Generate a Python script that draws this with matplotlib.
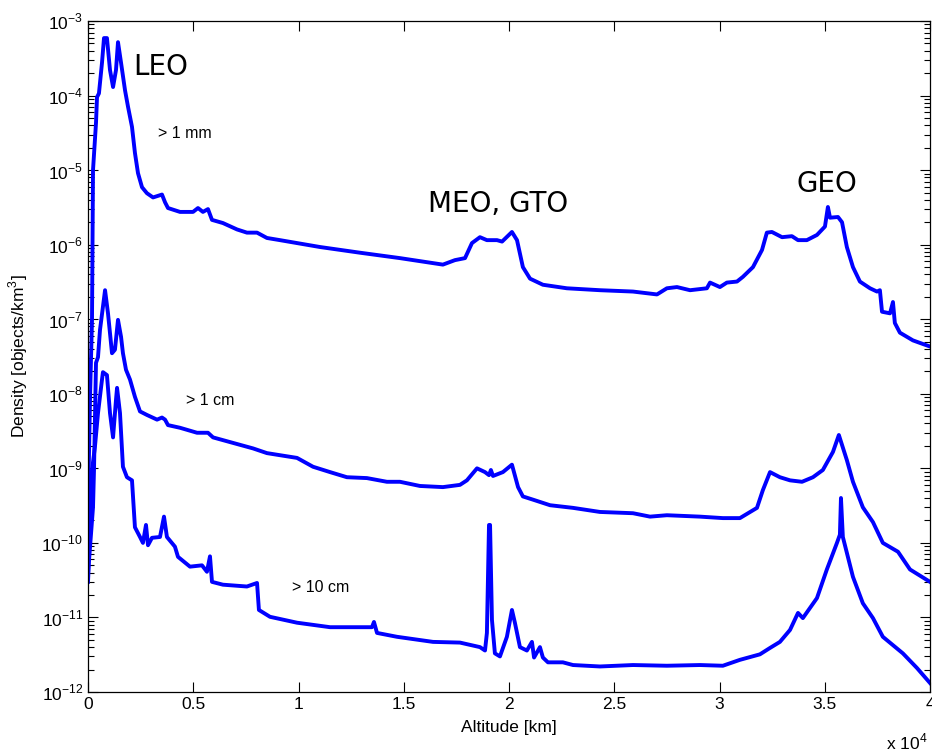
import numpy as np
import matplotlib
matplotlib.use("Agg")
from matplotlib import pyplot as plt
from matplotlib.ticker import FixedLocator, FuncFormatter, LogLocator, NullFormatter

# altitude [km] and density [objects/km^3]
alt_1mm = [0, 100, 190, 238, 380, 428, 520, 665, 760, 900, 1045, 1190, 1330, 1425, 1570,
           1760, 1900, 2090, 2230, 2375, 2565, 2800, 3090, 3515, 3660, 3800, 4370, 4990,
           5225, 5460, 5700, 5890, 6410, 7080, 7550, 8030, 8500, 9120, 11020, 12920,
           14820, 16860, 17430, 17910, 18240, 18620, 18950, 19430, 19670, 20140, 20380,
           20660, 21000, 21610, 22750, 24320, 25890, 27030, 27500, 27980, 28600, 29400,
           29550, 30020, 30350, 30830, 31110, 31590, 32020, 32250, 32490, 32970, 33440,
           33730, 34150, 34630, 35010, 35150, 35250, 35630, 35820, 36050, 36340, 36670,
           37150, 37480, 37620, 37720, 38100, 38240, 38330, 38570, 39190, 40000]
dens_1mm = [3e-10, 1e-8, 9.8e-8, 1.0e-5, 4.3e-5, 9.5e-5, 1.07e-4, 2.75e-4, 5.9e-4, 5.9e-4,
            2.2e-4, 1.3e-4, 2.2e-4, 5.2e-4, 2.75e-4, 1.17e-4, 7.1e-5, 3.8e-5, 1.7e-5,
            9.1e-6, 5.9e-6, 4.9e-6, 4.3e-6, 4.7e-6, 3.7e-6, 3.1e-6, 2.75e-6, 2.75e-6,
            3.1e-6, 2.75e-6, 3.0e-6, 2.15e-6, 1.95e-6, 1.6e-6, 1.45e-6, 1.45e-6, 1.23e-6,
            1.15e-6, 9.3e-7, 7.8e-7, 6.6e-7, 5.4e-7, 6.2e-7, 6.6e-7, 1.05e-6, 1.26e-6,
            1.15e-6, 1.15e-6, 1.1e-6, 1.48e-6, 1.15e-6, 5.0e-7, 3.5e-7, 2.9e-7, 2.6e-7,
            2.45e-7, 2.35e-7, 2.15e-7, 2.6e-7, 2.7e-7, 2.45e-7, 2.6e-7, 3.1e-7, 2.7e-7,
            3.1e-7, 3.2e-7, 3.7e-7, 5.0e-7, 8.5e-7, 1.45e-6, 1.48e-6, 1.26e-6, 1.3e-6,
            1.15e-6, 1.15e-6, 1.35e-6, 1.75e-6, 3.2e-6, 2.3e-6, 2.35e-6, 2.0e-6, 9.3e-7,
            5.0e-7, 3.2e-7, 2.6e-7, 2.35e-7, 2.45e-7, 1.26e-7, 1.2e-7, 1.7e-7, 8.9e-8,
            6.6e-8, 5.2e-8, 4.3e-8]

alt_1cm = [0, 50, 238, 285, 380, 475, 570, 810, 950, 1140, 1280, 1425, 1570, 1660, 1805,
           1995, 2230, 2470, 2800, 3280, 3515, 3660, 3800, 4370, 5180, 5700, 5940, 6745,
           7840, 8500, 9120, 9930, 10690, 11500, 12300, 13250, 14200, 14820, 15770, 16860,
           17670, 18000, 18480, 18860, 19050, 19140, 19240, 19710, 20140, 20430, 20660,
           21140, 21950, 23040, 24320, 25890, 26700, 27500, 29070, 30160, 30970, 31780,
           32060, 32400, 32870, 33350, 33920, 34440, 34910, 35390, 35670, 36050, 36340,
           36810, 37290, 37760, 38480, 39050, 40000]
dens_1cm = [3e-11, 5.9e-11, 3e-10, 9.5e-10, 2.6e-8, 3.1e-8, 7.2e-8, 2.45e-7, 1.2e-7,
            3.5e-8, 3.9e-8, 9.8e-8, 5.8e-8, 3.5e-8, 2.1e-8, 1.55e-8, 9.1e-9, 5.8e-9,
            5.2e-9, 4.5e-9, 4.8e-9, 4.5e-9, 3.8e-9, 3.5e-9, 3.0e-9, 3.0e-9, 2.6e-9,
            2.25e-9, 1.85e-9, 1.6e-9, 1.5e-9, 1.38e-9, 1.05e-9, 8.9e-10, 7.6e-10, 7.4e-10,
            6.6e-10, 6.6e-10, 5.8e-10, 5.6e-10, 6.0e-10, 6.9e-10, 1.0e-9, 8.9e-10,
            8.1e-10, 9.5e-10, 7.9e-10, 8.9e-10, 1.12e-9, 5.6e-10, 4.2e-10, 3.8e-10,
            3.2e-10, 2.95e-10, 2.6e-10, 2.5e-10, 2.25e-10, 2.35e-10, 2.25e-10, 2.15e-10,
            2.15e-10, 2.95e-10, 5.1e-10, 8.9e-10, 7.6e-10, 6.9e-10, 6.6e-10, 7.6e-10,
            9.5e-10, 1.66e-9, 2.8e-9, 1.29e-9, 6.6e-10, 3.0e-10, 1.9e-10, 1.0e-10,
            7.6e-11, 4.4e-11, 3.0e-11]

alt_10cm = [0, 190, 330, 475, 665, 710, 900, 1045, 1190, 1330, 1380, 1520, 1660, 1850,
            2090, 2230, 2470, 2610, 2755, 2850, 3040, 3420, 3610, 3750, 4130, 4275, 4845,
            5415, 5650, 5795, 5890, 6410, 7550, 8030, 8120, 8645, 9930, 11500, 12590,
            13490, 13585, 13730, 14680, 16390, 17670, 18620, 18860, 18950, 19050, 19100,
            19190, 19330, 19570, 19900, 20140, 20280, 20520, 20850, 21090, 21190, 21470,
            21610, 21850, 22560, 23040, 24320, 25890, 27500, 29070, 30160, 30970, 31920,
            32400, 32870, 33350, 33730, 33960, 34630, 35100, 35580, 35720, 35770, 35860,
            36340, 36810, 37290, 37760, 38710, 39380, 40000]
dens_10cm = [4.0e-11, 9.5e-10, 1.95e-9, 5.5e-9, 1.55e-8, 1.95e-8, 1.78e-8, 5.5e-9,
             2.6e-9, 8.3e-9, 1.2e-8, 5.5e-9, 1.05e-9, 7.6e-10, 6.9e-10, 1.62e-10,
             1.2e-10, 1.0e-10, 1.74e-10, 9.3e-11, 1.17e-10, 1.2e-10, 2.25e-10, 1.2e-10,
             8.9e-11, 6.5e-11, 4.8e-11, 5.0e-11, 4.1e-11, 6.6e-11, 3.0e-11, 2.75e-11,
             2.6e-11, 2.9e-11, 1.26e-11, 1.02e-11, 8.5e-12, 7.4e-12, 7.4e-12, 7.4e-12,
             8.7e-12, 6.2e-12, 5.5e-12, 4.7e-12, 4.6e-12, 4.0e-12, 3.6e-12, 6.2e-12,
             1.74e-10, 1.74e-10, 9.3e-12, 3.3e-12, 3.0e-12, 5.5e-12, 1.26e-11, 8.5e-12,
             4.0e-12, 3.6e-12, 4.7e-12, 2.9e-12, 4.0e-12, 2.9e-12, 2.5e-12, 2.5e-12,
             2.3e-12, 2.2e-12, 2.3e-12, 2.25e-12, 2.3e-12, 2.25e-12, 2.7e-12, 3.2e-12,
             3.9e-12, 4.7e-12, 6.8e-12, 1.15e-11, 9.8e-12, 1.82e-11, 4.4e-11, 1.0e-10,
             1.29e-10, 4.0e-10, 1.2e-10, 3.5e-11, 1.55e-11, 9.8e-12, 5.5e-12, 3.3e-12,
             2.1e-12, 1.32e-12]

size_labels = ["> 1 mm", "> 1 cm", "> 10 cm"]
size_label_pos = [(3325, 2.7e-5), (4650, 7.1e-9), (9690, 2.2e-11)]
region_labels = ["LEO", "MEO, GTO", "GEO"]
region_label_pos = [(2140, 1.9e-4), (16150, 2.75e-6), (33680, 5.1e-6)]

plt.rcParams["font.family"] = ["Liberation Sans", "DejaVu Sans"]
plt.rcParams["mathtext.fontset"] = "custom"
plt.rcParams["mathtext.rm"] = "Liberation Sans"

fig = plt.figure(figsize=(9.32, 7.51), dpi=100)
ax = fig.add_axes([88 / 932, 1 - 692 / 751, (930 - 88) / 932, (692 - 21) / 751])

for alt, dens in [(alt_1mm, dens_1mm), (alt_1cm, dens_1cm), (alt_10cm, dens_10cm)]:
    ax.plot(alt, dens, color="#0000ff", linewidth=2.8, solid_joinstyle="round")

ax.set_yscale("log")
ax.set_xlim(0, 40000)
ax.set_ylim(1e-12, 1e-3)

ax.xaxis.set_major_locator(FixedLocator(np.arange(0, 40001, 5000)))
ax.xaxis.set_major_formatter(FuncFormatter(lambda v, p: f"{v / 1e4:g}"))
ax.yaxis.set_major_locator(LogLocator(base=10, numticks=20))
ax.yaxis.set_minor_locator(LogLocator(base=10, subs=np.arange(2, 10), numticks=20))
ax.yaxis.set_minor_formatter(NullFormatter())
ax.yaxis.set_major_formatter(FuncFormatter(lambda v, p: r"$10^{%d}$" % round(np.log10(v))))

ax.tick_params(which="both", direction="in", top=True, right=True, labelsize=12.5, colors="black")
ax.tick_params(which="major", length=7, width=0.8)
ax.tick_params(which="minor", length=4, width=0.8)
for s in ax.spines.values():
    s.set_linewidth(0.9)

ax.set_xlabel("Altitude [km]", fontsize=12.5, labelpad=6)
ax.set_ylabel("Density [objects/km$^3$]", fontsize=12.5, labelpad=8)
fig.text(886 / 932, 1 - 742 / 751, r"x 10$^4$", fontsize=12.5, va="center")

for txt, (x, y) in zip(size_labels, size_label_pos):
    ax.text(x, y, txt, fontsize=11.5, va="baseline", ha="left")
for txt, (x, y) in zip(region_labels, region_label_pos):
    ax.text(x, y, txt, fontsize=20, va="baseline", ha="left", family="DejaVu Sans")

fig.savefig("out.png", dpi=100)
